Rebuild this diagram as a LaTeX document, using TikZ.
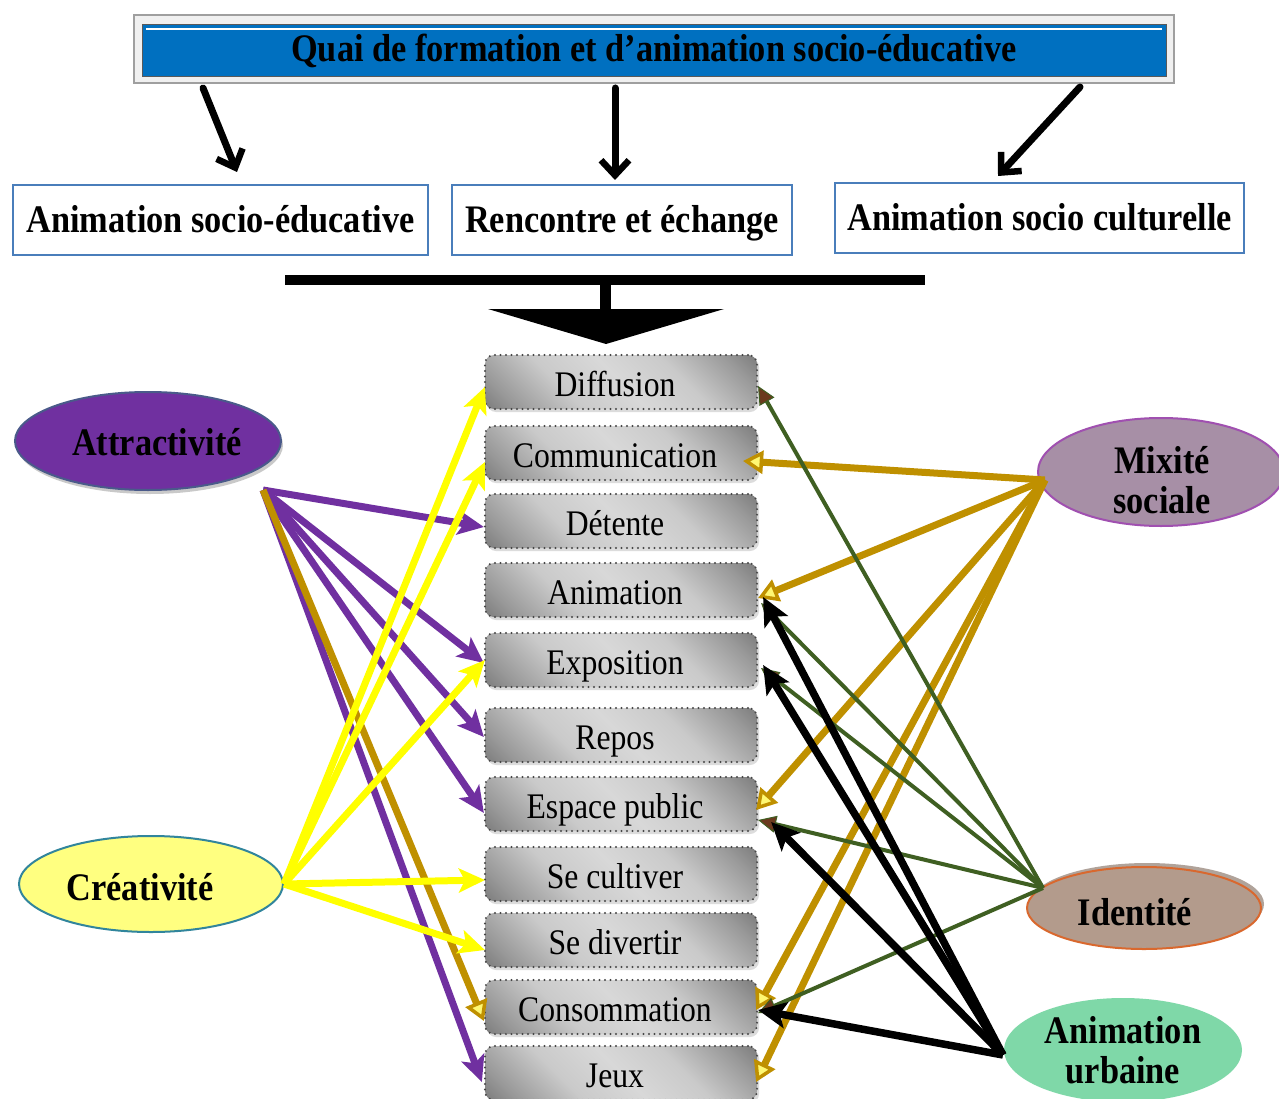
\documentclass[tikz,border=0pt]{standalone}
\usepackage{fontspec}
\usepackage{graphicx}
\setmainfont{Liberation Serif}
\usetikzlibrary{arrows.meta,shapes.geometric,shadows}
\definecolor{qblue}{HTML}{0070C0}
\definecolor{boxblue}{HTML}{4A7EBB}
\definecolor{shA}{HTML}{6A6A6A}
\definecolor{shC}{HTML}{9A9A9A}
\definecolor{shD}{HTML}{CACACA}
\definecolor{shB}{HTML}{D8D8D8}
\definecolor{attfill}{HTML}{7030A0}
\definecolor{attdraw}{HTML}{4A5A8A}
\definecolor{mixfill}{HTML}{A78FA6}
\definecolor{mixdraw}{HTML}{A050B0}
\definecolor{crefill}{HTML}{FFFF80}
\definecolor{credraw}{HTML}{31859C}
\definecolor{idfill}{HTML}{B39B8C}
\definecolor{iddraw}{HTML}{D9682E}
\definecolor{urbfill}{HTML}{7FD8A8}
\definecolor{purp}{HTML}{7030A0}
\definecolor{gold}{HTML}{BF9000}
\definecolor{yell}{HTML}{FFFF00}
\definecolor{dgreen}{HTML}{3F5F22}
\definecolor{tipbrown}{HTML}{6B3A1E}
\pgfdeclarehorizontalshading{boxshade}{100bp}{color(0bp)=(shA); color(10bp)=(shA); color(22bp)=(shC); color(36bp)=(shD); color(50bp)=(shB); color(64bp)=(shD); color(78bp)=(shC); color(90bp)=(shA); color(100bp)=(shA)}
\newcommand\myscl[1]{\scalebox{0.88}[1]{#1}}
\newcommand\cbt[1]{\hspace*{-12pt}\myscl{#1}}
\tikzset{
  topbox/.style={rectangle, draw=boxblue, line width=2pt, fill=white, inner sep=0pt,
    text height=28pt, text depth=2pt, font=\bfseries\fontsize{39}{42}\selectfont},
  cbox/.style={rectangle, rounded corners=9pt, minimum width=272pt, minimum height=54pt,
    inner sep=0pt, text height=29pt, text depth=0pt, shading=boxshade, shading angle=45,
    draw=gray!55!black, line width=2.2pt, dash pattern=on 0pt off 5.5pt, line cap=round,
    drop shadow={shadow xshift=2pt, shadow yshift=-3pt, fill=gray!60, opacity=0.45},
    font=\fontsize{36}{40}\selectfont},
  bell/.style={ellipse, inner sep=0pt, line width=2pt},
  btxt/.style={inner sep=0pt, align=center, font=\bfseries\fontsize{39}{40}\selectfont},
  toparr/.style={line width=7pt, line cap=round, -{Straight Barb[length=15pt,width=28pt,line width=6.5pt]}},
  purpar/.style={draw=purp, line width=7pt, -{Stealth[length=26pt,width=24pt,inset=6pt]}},
  yelar/.style={draw=yell, line width=7pt, -{Stealth[length=26pt,width=24pt,inset=6pt]}},
  goldar/.style={draw=gold, line width=7pt, -{Triangle[length=20pt,width=23pt,line width=3.5pt,fill=yellow!55!white]}},
  greenar/.style={draw=dgreen, line width=4pt, -{Triangle[length=18pt,width=17pt,line width=1pt,fill=tipbrown]}},
  blackar/.style={draw=black, line width=7.5pt, -{Stealth[length=28pt,width=26pt,inset=6pt]}},
}
\begin{document}
\begin{tikzpicture}[x=1pt,y=-1pt]
\clip (0,0) rectangle (1279,1099);
\fill[white] (0,0) rectangle (1279,1099);

% title banner
\node[rectangle, draw=gray!75, line width=2pt, fill=gray!12, minimum width=1040pt, minimum height=68pt, inner sep=0pt] (title) at (654,49) {};
\node[rectangle, draw=gray!70!black, line width=1pt, fill=qblue, minimum width=1024pt, minimum height=52pt, inner sep=0pt,
  text height=26pt, text depth=4pt, font=\bfseries\fontsize{39}{42}\selectfont] (tblue) at (654,51) {\myscl{Quai de formation et d’animation socio-éducative}};
\draw[white, line width=2.5pt] (146,29) -- (1162,29);

% top boxes
\node[topbox, minimum width=415pt, minimum height=70pt] (b1) at (220.5,220) {\myscl{Animation socio-éducative}};
\node[topbox, minimum width=340pt, minimum height=70pt] (b2) at (622,220) {\myscl{Rencontre et échange}};
\node[topbox, minimum width=409pt, minimum height=70pt] (b3) at (1039.5,218) {\myscl{Animation socio culturelle}};

\draw[toparr] ([xshift=-451pt,yshift=-4pt]title.south) -- ([xshift=16.5pt,yshift=12pt]b1.north);
\draw[toparr] ([xshift=-39pt,yshift=-4pt]title.south) -- ([xshift=-7pt,yshift=4pt]b2.north);
\draw[toparr] ([xshift=426pt,yshift=-3pt]title.south) -- ([xshift=-41.5pt,yshift=6pt]b3.north);

% big T arrow
\fill (285,275) rectangle (925,285);
\fill (600,284) rectangle (611,310);
\fill (488,309) -- (724,309) -- (606,344) -- cycle;

% central boxes
\node[cbox] (diff) at (621,382) {\cbt{Diffusion}};
\node[cbox] (comm) at (621,453) {\cbt{Communication}};
\node[cbox] (det) at (621,521) {\cbt{Détente}};
\node[cbox] (anim) at (621,590) {\cbt{Animation}};
\node[cbox] (expo) at (621,660) {\cbt{Exposition}};
\node[cbox] (repos) at (621,735) {\cbt{Repos}};
\node[cbox] (esp) at (621,804) {\cbt{Espace public}};
\node[cbox] (cult) at (621,874) {\cbt{Se cultiver}};
\node[cbox] (div) at (621,940) {\cbt{Se divertir}};
\node[cbox] (conso) at (621,1007) {\cbt{Consommation}};
\node[cbox] (jeux) at (621,1073) {\cbt{Jeux}};

% ellipses
\node[bell, fill=attfill, draw=attdraw, minimum width=266pt, minimum height=98pt,
  drop shadow={shadow xshift=2pt, shadow yshift=-4pt, fill=gray!70, opacity=0.6}] (att) at (148,441) {};
\node[btxt] (atttxt) at (157,442) {\myscl{Attractivité}};
\node[bell, fill=mixfill, draw=mixdraw, minimum width=246pt, minimum height=108pt] (mix) at (1161,472) {};
\node[btxt] (mixtxt) at (1162,480) {\myscl{Mixité}\\\myscl{sociale}};
\node[bell, fill=crefill, draw=credraw, minimum width=264pt, minimum height=96pt] (cre) at (151,884) {};
\node[btxt] (cretxt) at (140,887) {\myscl{Créativité}};
\node[bell, fill=idfill, draw=iddraw, minimum width=234pt, minimum height=82pt,
  drop shadow={shadow xshift=3pt, shadow yshift=4pt, fill=idfill!80!black, opacity=0.7}] (ident) at (1144,908) {};
\node[btxt] (idtxt) at (1135,912) {\myscl{Identité}};
\node[bell, fill=urbfill, draw=none, minimum width=238pt, minimum height=104pt] (urb) at (1123,1050) {};
\node[btxt] (urbtxt) at (1123,1050) {\myscl{Animation}\\\myscl{urbaine}};

% source points
\coordinate (attS) at (263,490);
\coordinate (creS) at (cre.east);
\coordinate (mixS) at (1045,480);
\coordinate (idS) at (1043,888);
\coordinate (urbS) at (1003,1055);

% purple (Attractivite)
\draw[purpar] (attS) -- ([yshift=-6pt]det.west);
\draw[purpar] (attS) -- ([yshift=-3pt]expo.west);
\draw[purpar] (attS) -- ([yshift=-2pt]repos.west);
\draw[purpar] (attS) -- ([yshift=-9pt]esp.west);
\draw[purpar] (attS) -- ([xshift=-2pt,yshift=-9pt]jeux.west);
\draw[goldar] (attS) -- ([yshift=-14pt]conso.west);

% yellow (Creativite)
\draw[yelar] (creS) -- ([xshift=1pt,yshift=-5pt]diff.west);
\draw[yelar] (creS) -- ([xshift=1pt,yshift=-9pt]comm.west);
\draw[yelar] (creS) -- ([xshift=1pt]expo.west);
\draw[yelar] (creS) -- ([xshift=1pt,yshift=-6pt]cult.west);
\draw[yelar] (creS) -- ([xshift=1pt,yshift=-10pt]div.west);

% gold (Mixite sociale)
\draw[goldar] (mixS) -- ([xshift=-15pt,yshift=-8pt]comm.east);
\draw[goldar] (mixS) -- ([yshift=-8pt]anim.east);
\draw[goldar] (mixS) -- ([xshift=-2pt,yshift=-6pt]esp.east);
\draw[goldar] (mixS) -- ([xshift=-2pt,yshift=-3pt]conso.east);
\draw[goldar] (mixS) -- ([xshift=-2pt,yshift=-9pt]jeux.east);

% green (Identite)
\draw[greenar] (idS) -- ([yshift=-4pt]diff.east);
\draw[greenar] (idS) -- ([xshift=3pt,yshift=-13pt]anim.east);
\draw[greenar] (idS) -- ([xshift=3pt,yshift=-8pt]expo.east);
\draw[greenar] (idS) -- ([yshift=-16pt]esp.east);
\draw[greenar] (idS) -- ([yshift=-6pt]conso.east);

% black (Animation urbaine)
\draw[blackar] (urbS) -- ([xshift=5pt,yshift=-7pt]anim.east);
\draw[blackar] (urbS) -- ([xshift=5pt,yshift=-5pt]expo.east);
\draw[blackar] (urbS) -- ([xshift=13pt,yshift=-18pt]esp.east);
\draw[blackar] (urbS) -- ([yshift=-3pt]conso.east);
\end{tikzpicture}
\end{document}
